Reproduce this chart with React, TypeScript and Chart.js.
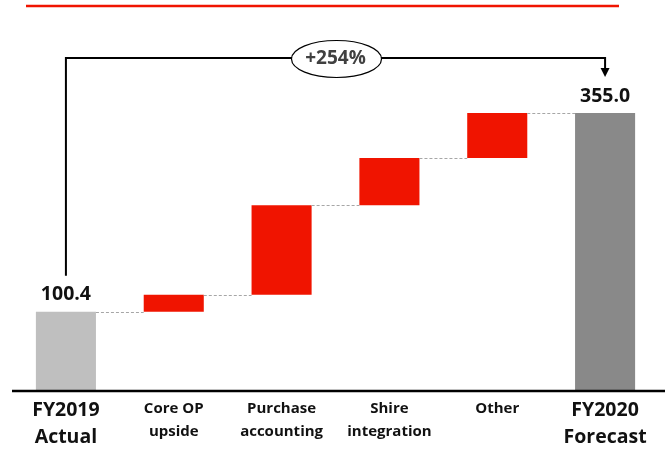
import React, { useEffect, useRef } from "react";
import { Chart, registerables } from "chart.js";

Chart.register(...registerables);

const categories: string[][] = [
  ["FY2019", "Actual"],
  ["Core OP", "upside"],
  ["Purchase", "accounting"],
  ["Shire", "integration"],
  ["Other"],
  ["FY2020", "Forecast"],
];
const startValues = [0, 100.4, 122.0, 237.0, 297.3, 0];
const endValues = [100.4, 122.0, 237.0, 297.3, 355.0, 355.0];
const barColors = ["#bfbfbf", "#f01400", "#f01400", "#f01400", "#f01400", "#898989"];
const totalLabels = ["100.4", "", "", "", "", "355.0"];
const changeLabel = "+254%";

const FONT = "'Open Sans', Lato, sans-serif";

export default function App() {
  const ref = useRef<HTMLCanvasElement | null>(null);

  useEffect(() => {
    if (!ref.current) return;

    const overlay = {
      id: "overlay",
      afterDraw(chart: any) {
        const ctx = chart.ctx as CanvasRenderingContext2D;
        const ca = chart.chartArea;
        const y = chart.scales.y;
        const meta = chart.getDatasetMeta(0);
        ctx.save();

        // top red rule
        ctx.strokeStyle = "#f01400";
        ctx.lineWidth = 2.5;
        ctx.beginPath();
        ctx.moveTo(26, 6);
        ctx.lineTo(619, 6);
        ctx.stroke();

        // baseline axis
        ctx.strokeStyle = "#000";
        ctx.lineWidth = 2.5;
        ctx.beginPath();
        ctx.moveTo(12, ca.bottom + 1);
        ctx.lineTo(chart.width, ca.bottom + 1);
        ctx.stroke();

        // dashed connectors
        ctx.strokeStyle = "#a6a6a6";
        ctx.lineWidth = 1;
        ctx.setLineDash([3, 2]);
        for (let i = 0; i < meta.data.length - 1; i++) {
          const a = meta.data[i];
          const b = meta.data[i + 1];
          const py = Math.round(y.getPixelForValue(endValues[i])) + 0.5;
          ctx.beginPath();
          ctx.moveTo(a.x + a.width / 2, py);
          ctx.lineTo(b.x - b.width / 2, py);
          ctx.stroke();
        }
        ctx.setLineDash([]);

        // total labels
        ctx.fillStyle = "#111";
        ctx.font = `bold 19.5px ${FONT}`;
        ctx.textAlign = "center";
        ctx.textBaseline = "middle";
        totalLabels.forEach((t, i) => {
          if (!t) return;
          const bar = meta.data[i];
          ctx.fillText(t, bar.x, y.getPixelForValue(endValues[i]) - 17);
        });

        // bracket with arrow
        const b0 = meta.data[0];
        const b5 = meta.data[meta.data.length - 1];
        const x0 = b0.x;
        const x1 = b5.x;
        const y0 = y.getPixelForValue(endValues[0]) - 36;
        const tip = y.getPixelForValue(endValues[endValues.length - 1]) - 36;
        const topY = 58;
        ctx.strokeStyle = "#000";
        ctx.lineWidth = 2;
        ctx.beginPath();
        ctx.moveTo(x0, y0);
        ctx.lineTo(x0, topY);
        ctx.lineTo(x1, topY);
        ctx.lineTo(x1, tip - 8);
        ctx.stroke();
        ctx.fillStyle = "#000";
        ctx.beginPath();
        ctx.moveTo(x1 - 4.5, tip - 9);
        ctx.lineTo(x1 + 4.5, tip - 9);
        ctx.lineTo(x1, tip);
        ctx.closePath();
        ctx.fill();

        // ellipse
        const cx = (x0 + x1) / 2 + 1;
        ctx.fillStyle = "#fff";
        ctx.strokeStyle = "#000";
        ctx.lineWidth = 1.2;
        ctx.beginPath();
        ctx.ellipse(cx, topY + 1, 45, 18.5, 0, 0, Math.PI * 2);
        ctx.fill();
        ctx.stroke();
        ctx.fillStyle = "#404040";
        ctx.font = `bold 19px ${FONT}`;
        ctx.fillText(changeLabel, cx - 1, topY + 1);

        ctx.restore();
      },
    };

    const chart = new Chart(ref.current, {
      type: "bar",
      data: {
        labels: categories as any,
        datasets: [
          {
            data: startValues.map((s, i) => [s, endValues[i]]) as any,
            backgroundColor: barColors,
            borderWidth: 0,
            borderSkipped: false,
            barPercentage: 0.557,
            categoryPercentage: 1,
          },
        ],
      },
      options: {
        responsive: false,
        animation: false,
        devicePixelRatio: 1,
        layout: { padding: { top: 39, left: 12, right: 6, bottom: 0 } },
        plugins: { legend: { display: false }, tooltip: { enabled: false } },
        scales: {
          x: {
            grid: { display: false, drawTicks: false },
            border: { display: false },
            ticks: {
              color: "#111",
              autoSkip: false,
              maxRotation: 0,
              minRotation: 0,
              padding: 7,
              font: (c: any) => {
                const big = c.index === 0 || c.index === categories.length - 1;
                return {
                  family: FONT,
                  weight: "bold",
                  size: big ? 19.5 : 15,
                  lineHeight: big ? 27 / 19.5 : 23 / 15,
                };
              },
            },
            afterFit: (s: any) => {
              s.height = 61;
            },
          },
          y: { display: false, min: 0, max: 450 },
        },
      },
      plugins: [overlay],
    });

    return () => chart.destroy();
  }, []);

  return (
    <div style={{ position: "absolute", left: 0, top: 0, width: 665, height: 451, background: "#fff" }}>
      <canvas ref={ref} width={665} height={451} />
    </div>
  );
}
